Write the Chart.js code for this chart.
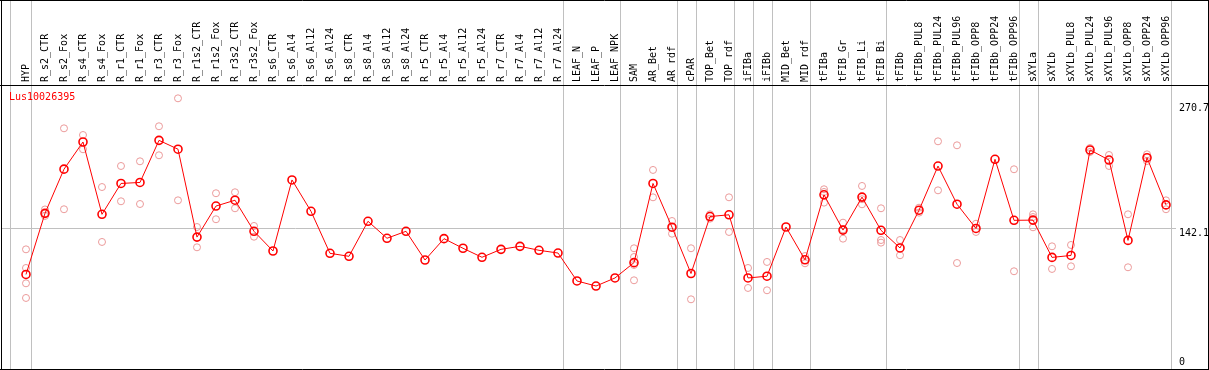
<!DOCTYPE html>
<html>
<head>
<meta charset="utf-8">
<script src="https://cdn.jsdelivr.net/npm/chart.js@4.4.1/dist/chart.umd.min.js"></script>
<style>
  html, body { margin: 0; padding: 0; background: #fff; }
</style>
</head>
<body>
<canvas id="chart" width="1209" height="370"></canvas>
<script>
const categories = [
  "HYP", "R_s2_CTR", "R_s2_Fox", "R_s4_CTR", "R_s4_Fox", "R_r1_CTR", "R_r1_Fox", "R_r3_CTR", "R_r3_Fox",
  "R_r1s2_CTR", "R_r1s2_Fox", "R_r3s2_CTR", "R_r3s2_Fox", "R_s6_CTR", "R_s6_Al4", "R_s6_Al12", "R_s6_Al24",
  "R_s8_CTR", "R_s8_Al4", "R_s8_Al12", "R_s8_Al24", "R_r5_CTR", "R_r5_Al4", "R_r5_Al12", "R_r5_Al24",
  "R_r7_CTR", "R_r7_Al4", "R_r7_Al12", "R_r7_Al24", "LEAF_N", "LEAF_P", "LEAF_NPK", "SAM", "AR_Bet", "AR_rdf",
  "cPAR", "TOP_Bet", "TOP_rdf", "iFIBa", "iFIBb", "MID_Bet", "MID_rdf", "tFIBa", "tFIB_Gr", "tFIB_Li", "tFIB_Bi",
  "tFIBb", "tFIBb_PUL8", "tFIBb_PUL24", "tFIBb_PUL96", "tFIBb_OPP8", "tFIBb_OPP24", "tFIBb_OPP96",
  "sXYLa", "sXYLb", "sXYLb_PUL8", "sXYLb_PUL24", "sXYLb_PUL96", "sXYLb_OPP8", "sXYLb_OPP24", "sXYLb_OPP96"
];

// mean expression per sample
const means = [
  94.5, 157.5, 203, 231, 156.5, 188.3, 189.3, 232.7, 223.6,
  133, 165, 171, 139, 118.7, 191.9, 159.6, 116.3,
  113.2, 149.3, 131.8, 139.0, 109.4, 131.4, 121.5, 112.2,
  120.4, 123.5, 119.4, 116.6, 87.8, 82.6, 90.9, 106.7, 188.3, 143.2,
  95.5, 154.2, 156, 90.9, 92.7, 143.4, 109.6, 176.6, 140.2, 174.2, 140,
  121.8, 160.7, 206.2, 166.9, 141.9, 213.2, 150.3,
  150.5, 112.1, 114.1, 222.8, 212.4, 129.6, 214.8, 166.2
];

// individual replicates per sample
const replicates = [
  [120.4, 101.2, 85.4, 70.3], [161.5, 157.5, 154.8], [245.1, 161.7], [238.2, 223.5], [184.6, 128.0],
  [206.3, 169.9], [211.1, 167.1], [247.2, 217.3], [276.0, 170.9],
  [143.4, 122.5], [178.2, 151.4], [179.2, 162.7], [144.5, 133.4], [], [], [], [],
  [], [], [], [], [], [], [], [],
  [], [], [], [], [], [], [], [121.5, 112.5, 104.3, 88.5], [202.2, 174.0], [149.6, 143.2, 136.5],
  [121.5, 68.9], [156.5, 152.0], [174.0, 138.3], [101.2, 80.6], [107.4, 78.2], [], [113.5, 106.0],
  [182.3, 179.5, 168.5], [147.9, 141.0, 131.4], [185.7, 172.0, 166.8], [162.7, 130.0, 127.3],
  [130.0, 114.3], [163.3, 158.2], [231.7, 181.2], [227.6, 106.3], [146.8, 138.3], [], [202.9, 97.8],
  [156.5, 153.7, 143.1], [123.5, 100.2], [124.9, 102.9], [224.8, 220.7], [217.6, 206.3],
  [156.5, 101.9], [218.3, 211.4], [170.9, 161.7]
];

// sample group sizes (gray separators between groups)
const groupSizes = [1, 28, 3, 3, 1, 2, 1, 1, 2, 4, 7, 1, 7];

const yTicks = [0, 142.1, 270.7];
const geneName = "Lus10026395";

const monoFont = "DejaVu Sans Mono";

const repPoints = [];
replicates.forEach((reps, i) => reps.forEach(v => repPoints.push({ x: i, y: v })));

const framePlugin = {
  id: "frame",
  beforeDatasetsDraw(chart) {
    const ctx = chart.ctx;
    const xs = chart.scales.x;
    ctx.save();
    ctx.strokeStyle = "#c0c0c0";
    ctx.lineWidth = 1;
    let idx = -1;
    const bounds = [idx];
    groupSizes.forEach(n => { idx += n; bounds.push(idx); });
    bounds.forEach((b, k) => {
      // first separator sits a little further left in the original
      const off = k === 0 ? 0.16 : 0.24;
      const px = Math.round(xs.getPixelForValue(b + off)) + 0.5;
      ctx.beginPath();
      ctx.moveTo(px, 0);
      ctx.lineTo(px, chart.height);
      ctx.stroke();
    });
    ctx.restore();
  },
  afterDraw(chart) {
    const ctx = chart.ctx;
    const area = chart.chartArea;
    const ys = chart.scales.y;
    ctx.save();
    ctx.strokeStyle = "#000";
    ctx.lineWidth = 1;
    ctx.beginPath();
    ctx.moveTo(0, 0.5); ctx.lineTo(chart.width, 0.5);
    ctx.moveTo(0, 85.5); ctx.lineTo(chart.width, 85.5);
    ctx.moveTo(0, chart.height - 0.5); ctx.lineTo(chart.width, chart.height - 0.5);
    ctx.moveTo(1.5, 0); ctx.lineTo(1.5, chart.height);
    ctx.moveTo(chart.width - 0.5, 0); ctx.lineTo(chart.width - 0.5, chart.height);
    ctx.stroke();

    ctx.font = "10px '" + monoFont + "'";
    ctx.fillStyle = "#ff0000";
    ctx.textBaseline = "middle";
    ctx.textAlign = "left";
    ctx.fillText(geneName, 9, 97);

    ctx.fillStyle = "#000";
    ctx.textBaseline = "top";
    yTicks.forEach(v => {
      const py = Math.min(ys.getPixelForValue(v), area.bottom - 12);
      ctx.fillText(String(v), area.right + 3, py);
    });
    ctx.restore();
  }
};

new Chart(document.getElementById("chart"), {
  type: "line",
  data: {
    datasets: [
      {
        label: "mean",
        data: means.map((v, i) => ({ x: i, y: v })),
        borderColor: "#ff0000",
        borderWidth: 1,
        pointStyle: "circle",
        pointRadius: 4,
        pointBorderWidth: 1.6,
        pointBorderColor: "#ff0000",
        pointBackgroundColor: "rgba(0,0,0,0)",
        tension: 0,
        order: 0
      },
      {
        label: "replicates",
        data: repPoints,
        showLine: false,
        pointStyle: "circle",
        pointRadius: 3.5,
        pointBorderWidth: 1,
        pointBorderColor: "#eb9a9a",
        pointBackgroundColor: "rgba(0,0,0,0)",
        order: 1
      }
    ]
  },
  options: {
    responsive: false,
    animation: false,
    devicePixelRatio: 1,
    layout: { autoPadding: false, padding: { left: 2, right: 33, top: 0, bottom: 1 } },
    plugins: {
      legend: { display: false },
      tooltip: { enabled: false },
      title: { display: false }
    },
    scales: {
      x: {
        type: "linear",
        position: "top",
        min: -1.263,
        max: 60.526,
        afterBuildTicks: s => { s.ticks = categories.map((c, i) => ({ value: i })); },
        afterFit: s => { s.height = 86; s.paddingLeft = 0; s.paddingRight = 0; },
        grid: { display: false, drawTicks: false },
        border: { display: false },
        ticks: {
          autoSkip: false,
          minRotation: 90,
          maxRotation: 90,
          padding: 4,
          labelOffset: 12,
          color: "#000",
          font: { family: monoFont, size: 10 },
          callback: v => categories[v] ?? ""
        }
      },
      y: {
        type: "linear",
        position: "right",
        min: -2.9,
        max: 288.7,
        afterBuildTicks: s => { s.ticks = yTicks.map(v => ({ value: v })); },
        afterFit: s => { s.width = 0; },
        ticks: { display: false },
        border: { display: false },
        grid: {
          drawTicks: false,
          lineWidth: 1,
          color: c => (c.tick && c.tick.value === 142.1 ? "#c0c0c0" : "rgba(0,0,0,0)")
        }
      }
    }
  },
  plugins: [framePlugin]
});
</script>
</body>
</html>
